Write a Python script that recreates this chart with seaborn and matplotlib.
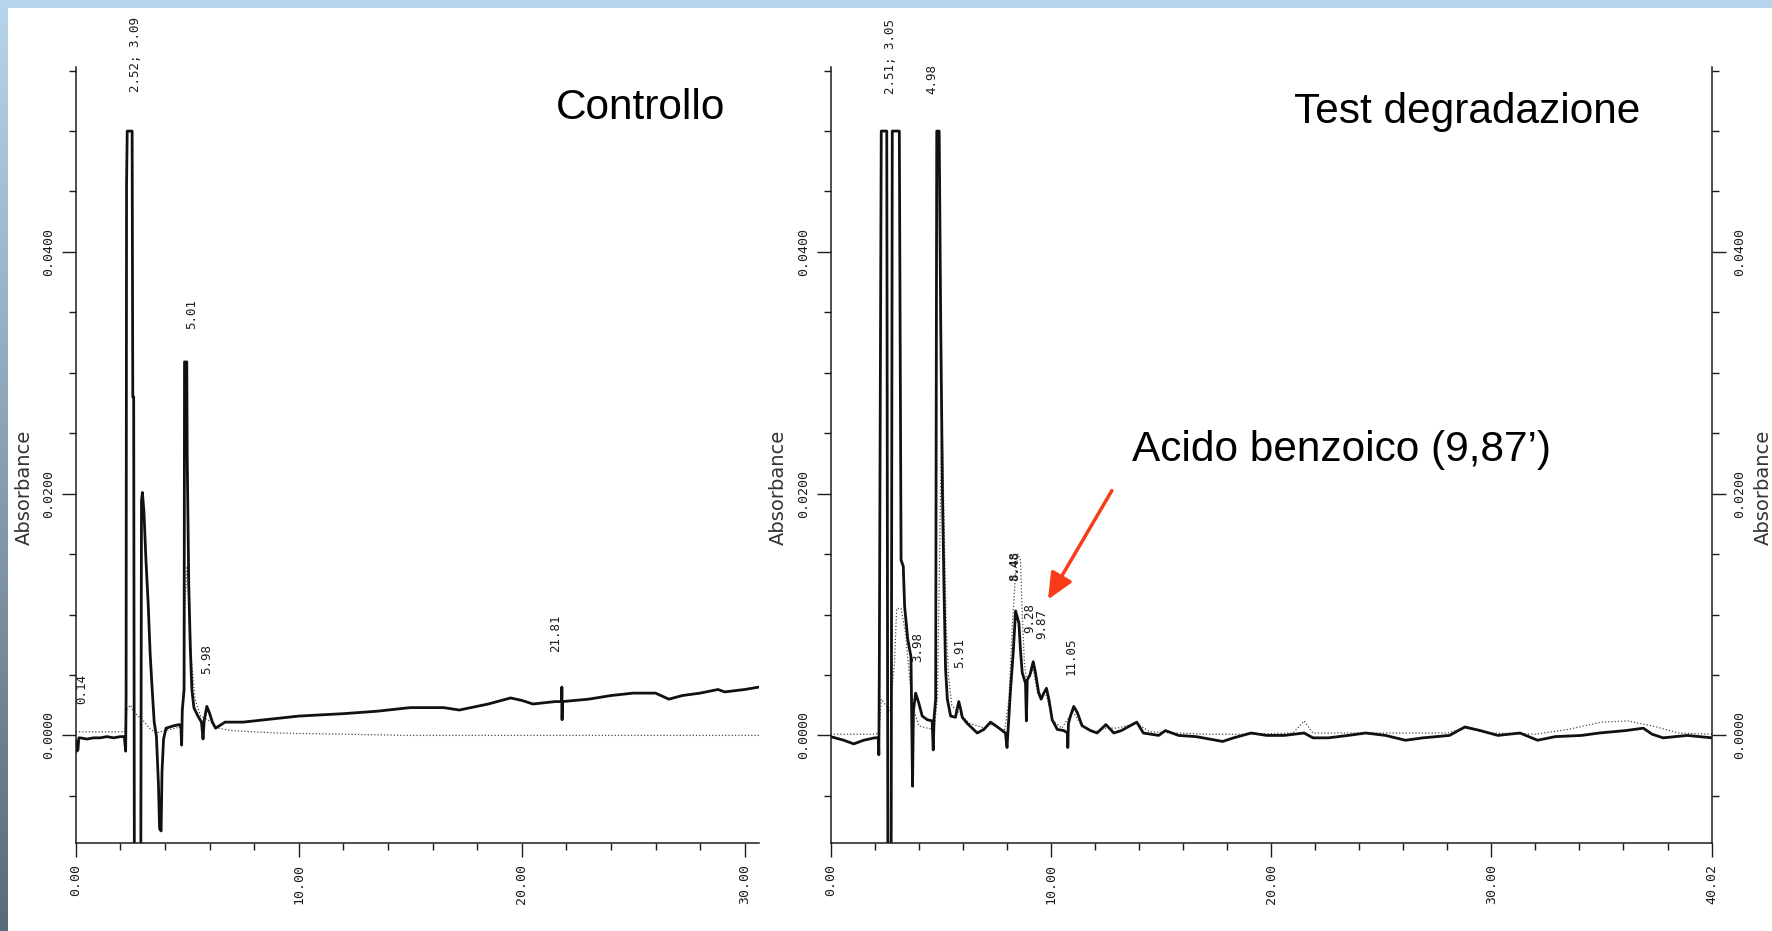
import numpy as np
import pandas as pd
import matplotlib
matplotlib.use("Agg")
import matplotlib.pyplot as plt
import seaborn as sns
from matplotlib.ticker import MultipleLocator, FixedLocator
from matplotlib.patches import Rectangle

# ---------------- data ----------------
# Left chromatogram ("Controllo"), time in minutes, absorbance
left_solid_t = [0.00, 0.05, 0.10, 0.14, 0.20, 0.5, 0.8, 1.1, 1.4, 1.7, 2.0, 2.18, 2.24, 2.26,
                2.28, 2.31, 2.53, 2.56, 2.60, 2.63, 2.92, 2.95, 2.99, 3.06, 3.15, 3.25, 3.34,
                3.43, 3.52, 3.62, 3.71, 3.76, 3.83, 3.87, 3.94, 4.05, 4.4, 4.65, 4.72, 4.75,
                4.78, 4.86, 4.88, 4.98, 5.00, 5.07, 5.14, 5.21, 5.30, 5.48, 5.64, 5.71, 5.76,
                5.88, 5.99, 6.13, 6.27, 6.7, 7.5, 8.0, 9.0, 10.0, 11.0, 12.0, 13.5, 15.0, 16.5,
                17.2, 18.5, 19.5, 20.0, 20.5, 21.5, 21.79, 21.80, 21.81, 21.82, 23.0, 24.0,
                25.0, 26.0, 26.6, 27.2, 28.0, 28.8, 29.1, 30.0, 30.64]
left_solid_a = [-0.0004, -0.0013, -0.0012, -0.0002, -0.0002, -0.0003, -0.0002, -0.0002, -0.0001,
                -0.0002, -0.0001, -0.0001, -0.0013, 0.0032, 0.0455, 0.0500, 0.0500, 0.0280,
                0.0280, -0.0100, -0.0100, 0.0194, 0.0201, 0.0185, 0.0145, 0.0109, 0.0067,
                0.0038, 0.0011, -0.0001, -0.0040, -0.0077, -0.0079, -0.0030, -0.0003, 0.0006,
                0.0008, 0.0009, 0.0006, -0.0008, 0.0021, 0.0038, 0.0309, 0.0309, 0.0230,
                0.0124, 0.0072, 0.0038, 0.0023, 0.0016, 0.0011, -0.0003, 0.0012, 0.0024,
                0.0019, 0.0011, 0.0006, 0.0011, 0.0011, 0.0012, 0.0014, 0.0016, 0.0017,
                0.0018, 0.0020, 0.0023, 0.0023, 0.0021, 0.0026, 0.0031, 0.0029, 0.0026,
                0.0028, 0.0028, 0.0040, 0.0013, 0.0028, 0.0030, 0.0033, 0.0035, 0.0035,
                0.0030, 0.0033, 0.0035, 0.0038, 0.0036, 0.0038, 0.0040]
left_dot_t = [0.0, 1.0, 2.0, 2.2, 2.3, 2.45, 2.6, 2.8, 3.0, 3.3, 3.6, 4.0, 4.5, 4.75, 4.82,
              4.9, 5.0, 5.1, 5.2, 5.35, 5.6, 6.0, 6.4, 7.0, 9.0, 12.0, 15.0, 20.0, 25.0, 30.64]
left_dot_a = [0.0003, 0.0003, 0.0003, 0.0003, 0.0022, 0.0025, 0.0020, 0.0016, 0.0013, 0.0006,
              0.0002, 0.0004, 0.0006, 0.0008, 0.0030, 0.0110, 0.0140, 0.0105, 0.0060, 0.0030,
              0.0016, 0.0012, 0.0006, 0.0004, 0.0002, 0.0001, 0.0000, 0.0000, 0.0000, 0.0000]

# Right chromatogram ("Test degradazione")
right_solid_t = [0.0, 0.6, 1.05, 1.5, 2.0, 2.17, 2.19, 2.21, 2.26, 2.30, 2.55, 2.60, 2.75, 2.80,
                 3.12, 3.20, 3.30, 3.36, 3.50, 3.65, 3.72, 3.76, 3.86, 4.00, 4.16, 4.39, 4.61,
                 4.66, 4.70, 4.77, 4.82, 4.93, 5.00, 5.08, 5.15, 5.22, 5.30, 5.45, 5.67, 5.82,
                 5.90, 5.98, 6.20, 6.43, 6.66, 6.96, 7.26, 7.50, 7.72, 7.94, 8.01, 8.05, 8.17,
                 8.29, 8.40, 8.55, 8.62, 8.70, 8.85, 8.89, 8.93, 9.05, 9.20, 9.30, 9.45, 9.56,
                 9.68, 9.80, 9.91, 10.06, 10.29, 10.59, 10.76, 10.77, 10.80, 10.89, 11.04,
                 11.20, 11.42, 11.8, 12.1, 12.5, 12.86, 13.2, 13.9, 14.2, 14.9, 15.2, 15.8,
                 16.6, 17.8, 18.3, 19.1, 19.8, 20.6, 21.5, 21.9, 22.6, 23.5, 24.3, 25.2, 26.1,
                 26.9, 28.1, 28.8, 29.5, 30.3, 31.3, 32.1, 32.9, 34.1, 34.9, 36.1, 36.9, 37.3,
                 37.8, 38.9, 40.02]
right_solid_a = [-0.0001, -0.0004, -0.0007, -0.0004, -0.0002, -0.0002, -0.0016, 0.0046, 0.0300,
                 0.0500, 0.0500, -0.0100, -0.0100, 0.0500, 0.0500, 0.0145, 0.0140, 0.0107,
                 0.0080, 0.0065, -0.0042, 0.0020, 0.0035, 0.0027, 0.0016, 0.0013, 0.0012,
                 -0.0012, 0.0015, 0.0030, 0.0500, 0.0500, 0.0340, 0.0200, 0.0120, 0.0055,
                 0.0030, 0.0016, 0.0015, 0.0028, 0.0022, 0.0015, 0.0010, 0.0006, 0.0002,
                 0.0005, 0.0011, 0.0008, 0.0005, 0.0002, -0.0010, 0.0002, 0.0038, 0.0068,
                 0.0103, 0.0093, 0.0071, 0.0052, 0.0043, 0.0012, 0.0046, 0.0050, 0.0061,
                 0.0052, 0.0035, 0.0030, 0.0035, 0.0039, 0.0030, 0.0013, 0.0005, 0.0004,
                 0.0002, -0.0010, 0.0010, 0.0016, 0.0024, 0.0019, 0.0008, 0.0004, 0.0002,
                 0.0009, 0.0002, 0.0004, 0.0011, 0.0002, 0.0000, 0.0004, 0.0000, -0.0001,
                 -0.0005, -0.0002, 0.0002, 0.0000, 0.0000, 0.0002, -0.0002, -0.0002, 0.0000,
                 0.0002, 0.0000, -0.0004, -0.0002, 0.0000, 0.0007, 0.0004, 0.0000, 0.0002,
                 -0.0004, -0.0001, 0.0000, 0.0002, 0.0004, 0.0006, 0.0001, -0.0002, 0.0000,
                 -0.0002]
right_dot_t = [0.0, 1.0, 2.0, 2.2, 2.3, 2.5, 2.7, 2.9, 3.0, 3.2, 3.4, 3.6, 3.8, 4.0, 4.4, 4.7,
               4.85, 4.95, 5.05, 5.15, 5.25, 5.35, 5.5, 5.85, 6.3, 7.0, 7.3, 7.9, 8.1, 8.25,
               8.4, 8.5, 8.62, 8.7, 8.8, 8.9, 9.2, 9.4, 9.8, 10.1, 10.5, 11.0, 11.4, 12.0,
               12.5, 13.0, 13.9, 14.5, 17.0, 19.0, 21.0, 21.5, 21.9, 25.0, 28.0, 28.8, 30.0,
               32.0, 33.5, 35.0, 36.2, 37.5, 38.5, 40.02]
right_dot_a = [0.0001, 0.0001, 0.0001, 0.0002, 0.0030, 0.0025, 0.0020, 0.0060, 0.0105, 0.0105,
               0.0085, 0.0045, 0.0020, 0.0008, 0.0006, 0.0005, 0.0030, 0.0150, 0.0270, 0.0180,
               0.0090, 0.0050, 0.0025, 0.0018, 0.0010, 0.0006, 0.0009, 0.0004, 0.0030, 0.0090,
               0.0135, 0.0150, 0.0145, 0.0100, 0.0060, 0.0045, 0.0055, 0.0035, 0.0033, 0.0012,
               0.0006, 0.0020, 0.0008, 0.0003, 0.0006, 0.0006, 0.0010, 0.0003, 0.0001, 0.0001,
               0.0002, 0.0012, 0.0002, 0.0002, 0.0002, 0.0006, 0.0002, 0.0001, 0.0005, 0.0011,
               0.0012, 0.0007, 0.0002, 0.0001]

# peak annotations (label, retention time position, absorbance position)
left_peak_labels = ["0.14", "2.52; 3.09", "5.01", "5.98", "21.81"]
left_peak_t = [0.27, 2.66, 5.18, 5.87, 21.5]
left_peak_a = [0.0026, 0.0532, 0.0336, 0.0051, 0.0069]
right_peak_labels = ["2.51; 3.05", "4.98", "3.98", "5.91", "8.48", "9.28", "9.87", "11.05"]
right_peak_t = [2.73, 4.60, 3.94, 5.87, 8.34, 9.02, 9.58, 10.90]
right_peak_a = [0.0531, 0.0531, 0.0061, 0.0056, 0.01275, 0.0085, 0.0080, 0.0050]

y_ticks = [0.0, 0.02, 0.04]
y_tick_labels = ["0.0000", "0.0200", "0.0400"]
left_x_ticks = [0, 10, 20, 30]
left_x_labels = ["0.00", "10.00", "20.00", "30.00"]
right_x_ticks = [0, 10, 20, 30, 40.02]
right_x_labels = ["0.00", "10.00", "20.00", "30.00", "40.02"]

title_left = "Controllo"
title_right = "Test degradazione"
note_text = "Acido benzoico (9,87\u2019)"
y_label = "Absorbance"

# ---------------- styling ----------------
sns.set_style("ticks")
plt.rcParams["font.family"] = ["DejaVu Sans"]

W, H = 1772, 931
fig = plt.figure(figsize=(W / 100, H / 100), dpi=100)
fig.patch.set_facecolor("white")

YMIN, YMAX = -0.0089, 0.0553
MONO = "DejaVu Sans Mono"
INK = "#1c1c1c"
TICKFS = 9.5
PEAKFS = 9

ax1 = fig.add_axes([75.7 / W, 1 - 843 / H, (759 - 75.7) / W, 776 / H])
ax2 = fig.add_axes([830.6 / W, 1 - 843 / H, 881.4 / W, 776 / H])


def draw(ax, st, sa, dt, da):
    ds = pd.DataFrame({"t": st, "A": sa})
    dd = pd.DataFrame({"t": dt, "A": da})
    sns.lineplot(data=dd, x="t", y="A", ax=ax, sort=False, estimator=None,
                 color="#4a4a4a", lw=0.9, linestyle=(0, (1, 1.6)))
    sns.lineplot(data=ds, x="t", y="A", ax=ax, sort=False, estimator=None,
                 color="#111111", lw=2.0)


def style(ax, xmax, xticks, xlabels, minors):
    ax.set_xlim(0, xmax)
    ax.set_ylim(YMIN, YMAX)
    ax.set_xticks(xticks)
    ax.set_xticklabels(xlabels, rotation=90, family=MONO, fontsize=TICKFS, color=INK)
    ax.xaxis.set_minor_locator(FixedLocator(minors))
    ax.set_yticks(y_ticks)
    ax.set_yticklabels(y_tick_labels, rotation=90, va="center", family=MONO,
                       fontsize=TICKFS, color=INK)
    ax.yaxis.set_minor_locator(MultipleLocator(0.005))
    ax.tick_params(which="major", length=10, width=1.0, direction="out", pad=5,
                   color=INK, bottom=True, left=True)
    ax.tick_params(which="minor", length=5, width=1.0, direction="out",
                   color=INK, bottom=True, left=True)
    ax.set_xlabel("")
    ax.set_ylabel(y_label, fontsize=14, color="#333333")
    for s in ["top", "right"]:
        ax.spines[s].set_visible(False)
    for s in ["left", "bottom"]:
        ax.spines[s].set_color(INK)
        ax.spines[s].set_linewidth(1.1)
    ax.set_facecolor("white")


draw(ax1, left_solid_t, left_solid_a, left_dot_t, left_dot_a)
draw(ax2, right_solid_t, right_solid_a, right_dot_t, right_dot_a)

style(ax1, 30.64, left_x_ticks, left_x_labels, [2, 4, 6, 8, 12, 14, 16, 18, 22, 24, 26, 28])
style(ax2, 40.02, right_x_ticks, right_x_labels,
      [2, 4, 6, 8, 12, 14, 16, 18, 22, 24, 26, 28, 32, 34, 36, 38])
ax1.yaxis.set_label_coords(-0.061, 0.458)
ax2.yaxis.set_label_coords(-0.0483, 0.458)

# right-hand axis of the second panel
ax3 = ax2.twinx()
ax3.set_ylim(YMIN, YMAX)
ax3.set_yticks(y_ticks)
ax3.set_yticklabels(y_tick_labels, rotation=90, va="center", family=MONO,
                    fontsize=TICKFS, color=INK)
ax3.yaxis.set_minor_locator(MultipleLocator(0.005))
ax3.tick_params(which="major", length=10, width=1.0, direction="out", pad=5,
                color=INK, right=True)
ax3.tick_params(which="minor", length=5, width=1.0, direction="out", color=INK, right=True)
for s in ["top", "left", "bottom"]:
    ax3.spines[s].set_visible(False)
ax3.spines["right"].set_visible(True)
ax3.spines["right"].set_color(INK)
ax3.spines["right"].set_linewidth(1.1)
ax3.set_ylabel(y_label, fontsize=14, color="#333333")
ax3.yaxis.set_label_coords(1.047, 0.458)

# peak labels
for lab, t, a in zip(left_peak_labels, left_peak_t, left_peak_a):
    ax1.text(t, a, lab, rotation=90, ha="center", va="bottom", family=MONO,
             fontsize=PEAKFS, color=INK, clip_on=False)
for lab, t, a in zip(right_peak_labels, right_peak_t, right_peak_a):
    ax2.text(t, a, lab, rotation=90, ha="center", va="bottom", family=MONO,
             fontsize=PEAKFS, color=INK, clip_on=False,
             fontweight="bold" if lab == "8.48" else "normal")

# red arrow to benzoic acid peak
ax2.annotate("", xy=(9.87, 0.01124), xytext=(12.77, 0.02025),
             arrowprops=dict(arrowstyle="-|>,head_length=1.0,head_width=0.45",
                             color="#fa3b1a", lw=2.5, shrinkA=0, shrinkB=0,
                             mutation_scale=16))

# titles / annotations
fig.text(556 / W, 1 - 119 / H, title_left, fontsize=30.5, family="Liberation Sans",
         va="baseline", ha="left", color="black")
fig.text(1294 / W, 1 - 123.5 / H, title_right, fontsize=30.5, family="Liberation Sans",
         va="baseline", ha="left", color="black")
fig.text(1132 / W, 1 - 461.5 / H, note_text, fontsize=30.5, family="Liberation Sans",
         va="baseline", ha="left", color="black")

# slide decoration: top band and left gradient band
fig.patches.append(Rectangle((0, 1 - 7.5 / H), 1, 7.5 / H, transform=fig.transFigure,
                             facecolor="#b8d5eb", edgecolor="none", zorder=0))
gax = fig.add_axes([0, 0, 8 / W, 1 - 7.5 / H])
c_top = np.array(matplotlib.colors.to_rgb("#b6d4eb"))
c_bot = np.array(matplotlib.colors.to_rgb("#5b6a77"))
frac = np.linspace(0, 1, 256)[:, None]
grad = (c_top[None, :] * (1 - frac) + c_bot[None, :] * frac)[:, None, :]
gax.imshow(grad, aspect="auto", extent=[0, 1, 0, 1])
gax.set_axis_off()

fig.savefig("out.png", dpi=100, facecolor="white")
